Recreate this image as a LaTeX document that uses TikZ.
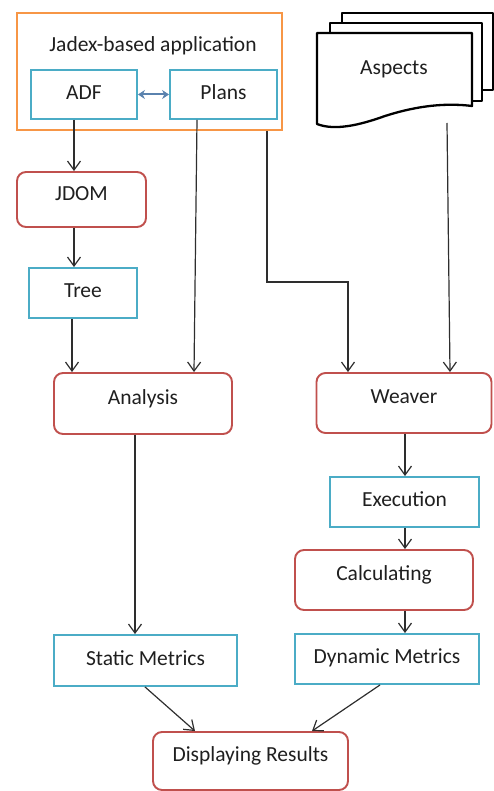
\documentclass[tikz,border=0pt]{standalone}
\usepackage{fontspec}
\setmainfont{Carlito}
\usetikzlibrary{arrows.meta,calc}
\definecolor{boxblue}{HTML}{4BACC6}
\definecolor{boxred}{HTML}{C0504D}
\definecolor{boxorange}{HTML}{F79646}
\definecolor{arrblue}{HTML}{5A82AE}
\definecolor{lncol}{HTML}{2E2E2E}
\tikzset{
  txt/.style={font=\fontsize{21.5}{25}\selectfont, text=black!88, text height=15pt, text depth=5.4pt, inner sep=0pt},
  bluebox/.style={txt, draw=boxblue, line width=1.9pt},
  redbox/.style={txt, draw=boxred, line width=1.9pt, rounded corners=9pt, text depth=13.4pt},
  conn/.style={draw=lncol, line width=1.2pt, -{Straight Barb[length=9pt,width=13pt,line width=1.2pt]}},
  docline/.style={draw=black, line width=2.3pt, line join=round}
}
\begin{document}
\begin{tikzpicture}[x=1pt,y=-1pt]
\useasboundingbox (0,0) rectangle (494,791);
% application container
\node[draw=boxorange, line width=1.9pt, minimum width=265pt, minimum height=117pt, inner sep=0pt] (app) at (149.5,71.5) {};
\node[txt] (apptitle) at (153,47) {Jadex-based application};
\node[bluebox, minimum width=106pt, minimum height=49pt] (ADF) at (84,94.5) {ADF};
\node[bluebox, minimum width=107pt, minimum height=49pt] (Plans) at (223.5,94.5) {Plans};
% aspects (multi-document)
\draw[docline] (342,23) -- (342,13) -- (493,13) -- (493,90) -- (482,90);
\draw[docline] (330,33) -- (330,23) -- (482,23) -- (482,101) -- (472,101);
\draw[docline, fill=white] (317,33) -- (472,33) -- (472,106)
   .. controls (440,102) and (410,108) .. (385,116)
   .. controls (360,125) and (335,131) .. (317,124) -- cycle;
\node[txt] (Aspects) at (394,70) {Aspects};
\coordinate (aspout) at (447,123);
% left column
\node[redbox, minimum width=129pt, minimum height=55pt] (JDOM) at (81.5,199.5) {JDOM};
\node[bluebox, minimum width=108pt, minimum height=50pt] (Tree) at (83,293) {Tree};
\node[redbox, minimum width=178pt, minimum height=61pt] (Analysis) at (143,403.5) {Analysis};
\node[bluebox, minimum width=183pt, minimum height=51pt] (Static) at (145.5,660.5) {Static Metrics};
% right column
\node[redbox, minimum width=175pt, minimum height=60pt] (Weaver) at (404,403) {Weaver};
\node[bluebox, minimum width=149pt, minimum height=50pt] (Exec) at (404.5,502) {Execution};
\node[redbox, minimum width=178pt, minimum height=60pt] (Calc) at (384,580) {Calculating};
\node[bluebox, minimum width=184pt, minimum height=50pt] (Dyn) at (387,659) {Dynamic Metrics};
\node[redbox, minimum width=195pt, minimum height=58pt] (Disp) at (250.5,761) {Displaying Results};
% connectors
\draw[draw=arrblue, line width=2pt, {Stealth[length=7pt,width=9pt]}-{Stealth[length=7pt,width=9pt]}] (ADF.east) -- (Plans.west);
\draw[conn] ([xshift=-10pt]ADF.south) -- ([xshift=-10pt]ADF.south |- JDOM.north);
\draw[conn] ([xshift=-7.5pt]JDOM.south) -- ([xshift=-7.5pt]JDOM.south |- Tree.north);
\draw[conn] ([xshift=-11pt]Tree.south) -- ([xshift=-11pt]Tree.south |- Analysis.north);
\draw[conn] ([xshift=-26.5pt]Plans.south) -- ([xshift=51pt]Analysis.north);
\coordinate (bendA) at (267,282);
\coordinate (bendB) at (348,282);
\draw[conn] ([xshift=117.5pt]app.south) -- (bendA) -- (bendB) -- ([xshift=-56pt]Weaver.north);
\draw[conn] (aspout) -- ([xshift=46pt]Weaver.north);
\draw[conn] (Analysis.south -| 135,0) -- (Static.north -| 135,0);
\draw[conn] (Weaver.south -| 405,0) -- (Exec.north -| 405,0);
\draw[conn] (Exec.south -| 405,0) -- (Calc.north -| 405,0);
\draw[conn] (Calc.south -| 405,0) -- (Dyn.north -| 405,0);
\draw[conn] ([xshift=-0.5pt]Static.south) -- ([xshift=-55.5pt]Disp.north);
\draw[conn] ([xshift=-7pt]Dyn.south) -- ([xshift=61.5pt]Disp.north);
\end{tikzpicture}
\end{document}
